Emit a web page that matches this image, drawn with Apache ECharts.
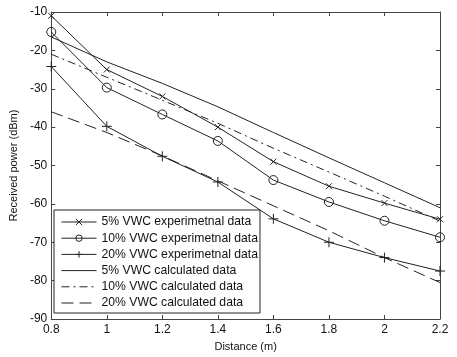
<!DOCTYPE html>
<html>
<head>
<meta charset="utf-8">
<script src="https://cdn.jsdelivr.net/npm/echarts@6/dist/echarts.min.js"></script>
<style>
  html, body { margin: 0; padding: 0; background: #fff; }
  #chart { width: 457px; height: 357px; }
</style>
</head>
<body>
<div id="chart"></div>
<script>
const distance = [0.8, 1.0, 1.2, 1.4, 1.6, 1.8, 2.0, 2.2]
const exp5 = [-11, -25, -32, -40, -49, -55.4, -59.8, -64]
const exp10 = [-15.2, -29.7, -36.7, -43.6, -53.8, -59.5, -64.4, -68.7]
const exp20 = [-24.2, -39.8, -47.6, -54.3, -63.9, -70, -74, -77.5]
const calc5 = [-16.5, -23, -28.6, -34.7, -41.4, -48, -54.5, -61]
const calc10 = [-21, -27, -33, -39, -45.5, -51.7, -58, -64.5]
const calc20 = [-36, -41.4, -47.5, -54, -60.5, -67, -74, -80.5]

const names = [
  '5% VWC experimetnal data',
  '10% VWC experimetnal data',
  '20% VWC experimetnal data',
  '5% VWC calculated data',
  '10% VWC calculated data',
  '20% VWC calculated data'
]

const ink = '#222'
const font = 'Liberation Sans, Arial, sans-serif'
const pairs = arr => distance.map((d, i) => [d, arr[i]])
const hollow = { color: 'none', borderColor: ink, borderWidth: 1 }

function line(name, data, opts) {
  return Object.assign({
    name,
    type: 'line',
    data: pairs(data),
    symbol: 'none',
    lineStyle: { color: ink, width: 1, type: 'solid' },
    itemStyle: { color: ink },
    emphasis: { disabled: true }
  }, opts)
}

// legend entries: hide the marker for the calculated curves
const legendData = names.map((n, i) => i < 3
  ? { name: n }
  : { name: n, itemStyle: { opacity: 0 } })

const chart = echarts.init(document.getElementById('chart'))
chart.setOption({
  animation: false,
  textStyle: { fontFamily: font },
  grid: { left: 48, right: 17, top: 12, bottom: 36 },
  legend: {
    data: legendData,
    orient: 'vertical',
    left: 54,
    top: 210,
    padding: [6, 2, 4, 7],
    itemGap: 4.2,
    itemWidth: 35,
    itemHeight: 8,
    lineStyle: { width: 1 },
    itemStyle: { borderWidth: 1 },
    backgroundColor: '#fff',
    borderColor: ink,
    borderWidth: 1,
    textStyle: { fontSize: 12.2, color: '#111', fontFamily: font }
  },
  xAxis: [
    {
      type: 'value', min: 0.8, max: 2.2, interval: 0.2,
      name: 'Distance (m)', nameLocation: 'middle', nameGap: 22,
      nameTextStyle: { fontSize: 11, color: '#111' },
      axisLine: { lineStyle: { color: '#444' } },
      axisTick: { inside: true, length: 4, lineStyle: { color: '#444' } },
      axisLabel: { fontSize: 12, color: '#111', margin: 5, formatter: v => String(+v.toFixed(1)) },
      splitLine: { show: false }
    },
    {
      type: 'value', position: 'top', min: 0.8, max: 2.2, interval: 0.2,
      axisLine: { lineStyle: { color: '#444' } },
      axisTick: { inside: true, length: 4, lineStyle: { color: '#444' } },
      axisLabel: { show: false },
      splitLine: { show: false }
    }
  ],
  yAxis: [
    {
      type: 'value', min: -90, max: -10, interval: 10,
      name: 'Received power (dBm)', nameLocation: 'middle', nameGap: 32,
      nameTextStyle: { fontSize: 11, color: '#111' },
      axisLine: { show: true, lineStyle: { color: '#444' } },
      axisTick: { show: true, inside: true, length: 4, lineStyle: { color: '#444' } },
      axisLabel: { fontSize: 12, color: '#111', margin: 4 },
      splitLine: { show: false }
    },
    {
      type: 'value', position: 'right', min: -90, max: -10, interval: 10,
      axisLine: { show: true, lineStyle: { color: '#444' } },
      axisTick: { show: true, inside: true, length: 4, lineStyle: { color: '#444' } },
      axisLabel: { show: false },
      splitLine: { show: false }
    }
  ],
  series: [
    line(names[0], exp5, { symbol: 'path://M0,0L10,10M10,0L0,10', symbolSize: 6, itemStyle: hollow }),
    line(names[1], exp10, { symbol: 'circle', symbolSize: 9, itemStyle: hollow }),
    line(names[2], exp20, { symbol: 'path://M5,0L5,10M0,5L10,5', symbolSize: 10, itemStyle: hollow }),
    line(names[3], calc5),
    line(names[4], calc10, { lineStyle: { color: ink, width: 1, type: [8, 4, 2, 4] } }),
    line(names[5], calc20, { lineStyle: { color: ink, width: 1, type: [12, 6] } })
  ]
})
</script>
</body>
</html>
